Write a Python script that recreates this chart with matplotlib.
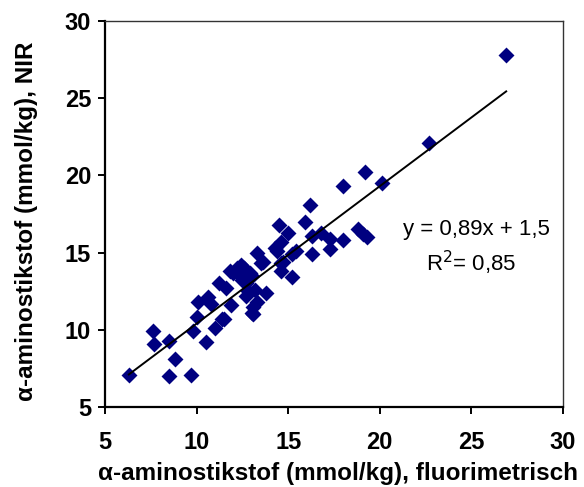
import matplotlib
matplotlib.use("Agg")
import matplotlib.pyplot as plt

# meetpunten: fluorimetrisch (x) tegen NIR (y)
x_fluor = [6.3, 8.5, 9.7, 8.8, 7.6, 7.7, 8.5, 9.8, 10.5, 11.0,
           11.4, 10.0, 10.1, 10.6, 10.8, 11.2, 11.6, 11.9, 12.0, 12.4,
           12.5, 12.9, 13.3, 13.6, 12.7, 13.2, 13.8, 13.1, 13.1, 14.5,
           15.0, 14.6, 14.4, 14.7, 14.6, 15.2, 15.4, 15.9, 16.2, 16.3,
           16.3, 16.8, 17.3, 17.3, 18.0, 18.0, 19.2, 20.1, 22.7, 26.9,
           18.8, 19.1, 19.3, 12.2, 11.8, 12.3, 12.8, 13.3, 13.0, 11.5,
           13.5, 15.2, 14.6, 12.6, 14.3, 13.0, 12.7]
y_nir = [7.1, 7.0, 7.1, 8.1, 9.9, 9.1, 9.3, 9.9, 9.2, 10.1,
         10.7, 10.8, 11.8, 12.1, 11.7, 13.0, 12.7, 11.6, 13.7, 14.2,
         13.2, 13.7, 15.0, 14.4, 12.2, 12.6, 12.4, 11.5, 11.0, 16.8,
         16.3, 15.7, 15.1, 14.4, 13.8, 13.4, 15.1, 17.0, 18.1, 16.1,
         14.9, 16.3, 15.9, 15.2, 15.8, 19.3, 20.2, 19.5, 22.1, 27.8,
         16.5, 16.2, 16.0, 14.0, 13.8, 13.6, 12.5, 11.8, 11.1, 10.7,
         14.3, 14.9, 14.3, 14.0, 15.3, 13.5, 13.0]

# trendlijn zoals vermeld in de grafiek
slope = 0.89
intercept = 1.5

plt.rcParams['font.family'] = ['Liberation Sans', 'DejaVu Sans']

fig = plt.figure(figsize=(5.84, 4.87), dpi=100)
ax = fig.add_axes([0.1798, 0.1643, 0.7842, 0.7926])

ax.scatter(x_fluor, y_nir, marker='D', s=66, color='#000080', linewidths=0, zorder=2)

x0, x1 = min(x_fluor), max(x_fluor)
ax.plot([x0, x1], [slope * x0 + intercept, slope * x1 + intercept],
        color='black', linewidth=1.4, zorder=3)

ax.set_xlim(5, 30)
ax.set_ylim(5, 30)
ax.set_xticks([5, 10, 15, 20, 25, 30])
ax.set_yticks([5, 10, 15, 20, 25, 30])

for side in ['left', 'bottom']:
    ax.spines[side].set_linewidth(1.6)
    ax.spines[side].set_color('black')
for side in ['top', 'right']:
    ax.spines[side].set_linewidth(1.0)
    ax.spines[side].set_color('#333333')

ax.tick_params(direction='out', length=5, width=1.4, labelsize=17)
ax.tick_params(axis='x', pad=12)
ax.tick_params(axis='y', pad=5)
for lab in ax.get_xticklabels() + ax.get_yticklabels():
    lab.set_fontweight('bold')

ax.set_xlabel('\u03b1-aminostikstof (mmol/kg), fluorimetrisch',
              fontsize=17.5, fontweight='bold')
ax.set_ylabel('\u03b1-aminostikstof (mmol/kg), NIR',
              fontsize=17.5, fontweight='bold')
ax.xaxis.set_label_coords(0.509, -0.142)
ax.yaxis.set_label_coords(-0.146, 0.482)

ax.text(0.812, 0.459, 'y = 0,89x + 1,5', transform=ax.transAxes,
        ha='center', va='center', fontsize=16)
ax.text(0.800, 0.373, 'R$^2$= 0,85', transform=ax.transAxes,
        ha='center', va='center', fontsize=16)

fig.savefig('out.png', dpi=100)
